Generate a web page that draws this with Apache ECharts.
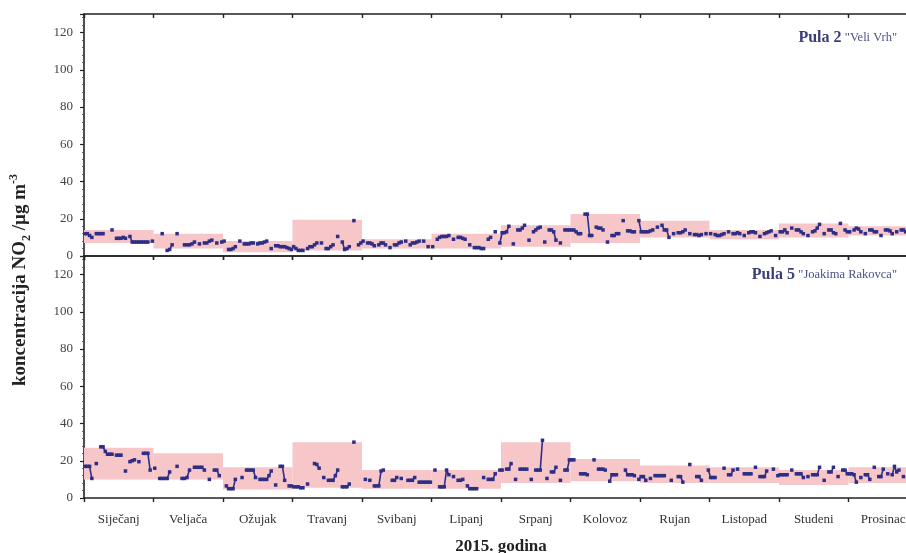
<!DOCTYPE html>
<html>
<head>
<meta charset="utf-8">
<title>NO2 Pula 2015</title>
<script src="https://cdn.jsdelivr.net/npm/echarts@6/dist/echarts.min.js"></script>
<style>
  html, body { margin: 0; padding: 0; background: #fff; }
  #chart { width: 906px; height: 553px; }
</style>
</head>
<body>
<div id="chart"></div>
<script>
// Month names (x categories)
const months = ['Siječanj', 'Veljača', 'Ožujak', 'Travanj', 'Svibanj', 'Lipanj',
                'Srpanj', 'Kolovoz', 'Rujan', 'Listopad', 'Studeni', 'Prosinac'];

// Y-axis tick values
const yTicks = [0, 20, 40, 60, 80, 100, 120];

// Monthly ranges (pink boxes), µg/m3
const pula2Low  = [7, 4, 2, 3, 4, 4, 5, 7, 10, 9, 10, 11];
const pula2High = [14, 12, 8, 19.5, 9, 12, 16.5, 22.5, 19, 14, 17.5, 16];
const pula5Low  = [10, 10, 4.5, 5.5, 5, 5, 8, 9, 8, 8, 7, 8];
const pula5High = [27, 24, 16.5, 30, 15, 15, 30, 21, 17.5, 16.5, 15, 16.5];

// Daily values per month, null = no measurement
const pula2Daily = [
  [12,12,11,10,null,12,12,12,12,null,null,null,14,null,9.5,9.5,9.5,10,9.5,null,10.5,7.5,7.5,7.5,7.5,7.5,7.5,7.5,7.5,null,8],
  [null,null,null,12,null,3,3.5,6,null,12,null,null,6,6,6,6.5,7.5,null,6.5,null,7,7,8,8.5,null,7,null,7.5],
  [8,null,3.5,3.5,4,5,null,8,null,6.5,6.5,6.5,7,7,null,6.5,7,7,7.5,8,null,4,null,5.5,5.5,5,5,5,4.5,4,3.5],
  [5,4,3,3,3,null,4,5,5,6,7,null,7,null,4,4,5,6,null,10.5,null,7.5,3.5,4,5,null,19,null,6,7],
  [8,null,7,7,6.5,5.5,null,6,7,7,6,null,4.5,null,6,6,7,7.5,null,8,null,6,7,7,7.5,8,null,8,null,5,null],
  [5,null,9,10,10.5,10.5,10.5,11,null,9,null,10,10,9.5,9,null,6,null,4.5,4.5,4.5,4,4,null,9,10,null,13,null,7],
  [12.5,12.5,13,16,null,6.5,null,14,14,15,16.5,null,8.5,null,13,14,15,15.5,null,7.5,null,14,14,13,8.5,null,7,null,14,14,14],
  [14,14,13,12,12,null,22.5,22.5,11,11,null,15.5,15,15,14,null,7.5,null,11,11,12,12,null,19,null,13.5,13.5,13,13,null,19],
  [13,13,13,13,13.5,14,null,15.5,null,16.5,14,14,10,null,12,null,12.5,12.5,13,14,null,12,null,11.5,11.5,11,11.5,null,12,null],
  [12,null,11.5,11,11,11.5,12,null,13,null,12,12,12.5,12,null,11,null,12.5,13,13,12.5,null,10.5,null,12,12.5,13,13.5,null,11,null],
  [13,13,14,12.5,null,15,null,14,14,13,12,null,11,null,13,13.5,15,17,null,12,null,14,14,12.5,12,null,17.5,null,14,13],
  [13,null,14,15,14.5,13,null,12,null,14,14,13,13,null,11,null,14,14,13.5,12,null,13,null,14,14,13,12.5,null,13,null,12.5]
];

const pula5Daily = [
  [17,17,17,10.5,null,18.5,null,27.5,27.5,25,23.5,23.5,23.5,null,23,23,23,null,14.5,null,19.5,20,20.5,null,19.5,null,24,24,24,15,null],
  [16,null,10.5,10.5,10.5,10.5,14,null,null,17,null,10.5,10.5,11,15,null,16.5,16.5,16.5,16.5,15,null,10,null,15,15,12,null],
  [null,6.5,5,5,5,10,null,null,11,null,15,15,15,15,11,null,10,10,10,10,12,14.5,null,7,null,17,17,9.5,null,6.5,6.5],
  [6,6,6,5.5,5.5,null,7.5,null,null,18.5,18,16,null,11,null,9.5,9.5,9.5,12,15,null,6,6,6,7.5,null,30,null,null,null],
  [null,10,null,9.5,null,6.5,6.5,6.5,14.5,15,null,null,null,9.5,9.5,11,null,10.5,null,null,9.5,9.5,9.5,11,null,8.5,8.5,8.5,8.5,8.5,8.5],
  [null,15,null,6,6,6,15,12.5,null,11.5,null,9.5,9.5,10,null,6.5,5,5,5,5,null,null,11,null,10,10,10,13,null,15],
  [15,null,15.5,15.5,18.5,null,10,null,15.5,15.5,15.5,15.5,null,10,null,15,15,15,31,null,10.5,null,14,14,16.5,null,9.5,null,15,15,20.5],
  [20.5,20.5,null,null,13,13,13,12.5,null,null,20.5,null,15.5,15.5,15.5,15,null,9,12.5,12.5,12.5,null,null,null,15,12.5,12.5,12.5,12,null,10],
  [11.5,11.5,9.5,null,10.5,null,12,12,12,12,12,null,null,9.5,null,null,11.5,11.5,8.5,null,null,18,null,null,11.5,11.5,9.5,null,null,15],
  [11,11,11,null,null,null,16,null,12.5,12.5,15,null,15.5,null,null,13,13,13,13,null,16.5,null,11.5,11.5,11.5,14.5,null,null,15.5,null,12],
  [12.5,12.5,12.5,12.5,null,15,null,13,13,13,11,null,11.5,null,12.5,12.5,12.5,16.5,null,9.5,null,14,14,16.5,null,11.5,null,15,15,13],
  [13,13,12.5,8.5,null,11,null,12.5,12.5,10,null,16.5,null,11.5,11.5,15.5,null,13,null,12.5,17,14,15,null,11.5,null,12,12,12,12.5,13]
];

const SERIF = 'Liberation Serif';
const LINE_BLUE = '#2d2f86';
const BOX_PINK = '#f6c6c9';
const AXIS_DARK = '#222';

// Each day sits inside its month's slot on a 0..12 month scale
function dailyPoints(monthly) {
  const pts = [];
  monthly.forEach((days, m) => {
    days.forEach((v, d) => {
      pts.push([m + (d + 0.5) / days.length, v === null ? '-' : v]);
    });
  });
  return pts;
}

function boxData(low, high) {
  return low.map((lo, m) => [m, lo, high[m]]);
}

function renderBox(params, api) {
  const p0 = api.coord([api.value(0), api.value(1)]);
  const p1 = api.coord([api.value(0) + 1, api.value(2)]);
  return {
    type: 'rect',
    shape: { x: p0[0], y: p1[1], width: p1[0] - p0[0], height: p0[1] - p1[1] },
    style: { fill: BOX_PINK }
  };
}

function valueX(gridIndex, position, inside) {
  return {
    type: 'value', gridIndex, position, min: 0, max: 12, interval: 1,
    axisLine: { show: true, onZero: false, lineStyle: { color: AXIS_DARK, width: 1.6 } },
    axisTick: { show: true, inside, length: 4, lineStyle: { color: AXIS_DARK, width: 1.4 } },
    axisLabel: { show: false },
    splitLine: { show: false }
  };
}

function valueY(gridIndex) {
  return {
    type: 'value', gridIndex, min: 0, max: 130, interval: 20,
    axisLine: { show: true, lineStyle: { color: AXIS_DARK, width: 1.6 } },
    axisTick: { show: true, length: 4, lineStyle: { color: AXIS_DARK, width: 1.2 } },
    minorTick: { show: true, splitNumber: 5, length: 2, lineStyle: { color: '#444', width: 0.8 } },
    axisLabel: {
      fontFamily: SERIF, fontSize: 13, color: '#444', margin: 11,
      formatter: v => (yTicks.indexOf(v) >= 0 ? String(v) : '')
    },
    splitLine: { show: false }
  };
}

function lineSeries(monthly, axisIndex) {
  return {
    type: 'line', xAxisIndex: axisIndex, yAxisIndex: axisIndex === 0 ? 0 : 1,
    data: dailyPoints(monthly),
    connectNulls: false,
    showAllSymbol: true,
    symbol: 'rect', symbolSize: 3.5,
    itemStyle: { color: LINE_BLUE },
    lineStyle: { color: LINE_BLUE, width: 1.6 },
    animation: false, z: 3
  };
}

const chart = echarts.init(document.getElementById('chart'), null, { renderer: 'canvas' });

chart.setOption({
  animation: false,
  backgroundColor: '#fff',
  grid: [
    { left: 84, right: -12, top: 14, height: 242, outerBoundsMode: 'none', containLabel: false },
    { left: 84, right: -12, top: 256, height: 242, outerBoundsMode: 'none', containLabel: false }
  ],
  xAxis: [
    valueX(0, 'bottom', false),
    valueX(1, 'bottom', false),
    valueX(0, 'top', true),
    valueX(1, 'top', true),
    {
      type: 'category', gridIndex: 1, position: 'bottom', data: months, boundaryGap: true,
      axisLine: { show: false }, axisTick: { show: false },
      axisLabel: { fontFamily: SERIF, fontSize: 13, color: '#333', margin: 15 },
      name: '2015. godina', nameLocation: 'middle', nameGap: 40,
      nameTextStyle: { fontFamily: SERIF, fontSize: 17, fontWeight: 'bold', color: '#222' }
    }
  ],
  yAxis: [valueY(0), valueY(1)],
  series: [
    { type: 'custom', xAxisIndex: 0, yAxisIndex: 0, renderItem: renderBox,
      data: boxData(pula2Low, pula2High), z: 1, silent: true },
    { type: 'custom', xAxisIndex: 1, yAxisIndex: 1, renderItem: renderBox,
      data: boxData(pula5Low, pula5High), z: 1, silent: true },
    lineSeries(pula2Daily, 0),
    lineSeries(pula5Daily, 1)
  ],
  graphic: [
    {
      type: 'text', x: 20, y: 280, rotation: Math.PI / 2,
      style: {
        text: 'koncentracija NO{sub|2} /µg m{sup|-3}',
        fontFamily: SERIF, fontSize: 19, fontWeight: 'bold', fill: '#222',
        align: 'center', verticalAlign: 'middle',
        rich: {
          sub: { fontFamily: SERIF, fontSize: 12, fontWeight: 'bold', fill: '#222', verticalAlign: 'bottom', lineHeight: 25 },
          sup: { fontFamily: SERIF, fontSize: 12, fontWeight: 'bold', fill: '#222', verticalAlign: 'top', lineHeight: 25 }
        }
      }
    },
    {
      type: 'text', right: 9, top: 30,
      style: {
        text: '{b|Pula 2} {s|"Veli Vrh"}',
        rich: {
          b: { fontFamily: SERIF, fontSize: 16, fontWeight: 'bold', fill: '#3a3d78' },
          s: { fontFamily: SERIF, fontSize: 12.5, fill: '#4c5088' }
        }
      }
    },
    {
      type: 'text', right: 9, top: 267,
      style: {
        text: '{b|Pula 5} {s|"Joakima Rakovca"}',
        rich: {
          b: { fontFamily: SERIF, fontSize: 16, fontWeight: 'bold', fill: '#3a3d78' },
          s: { fontFamily: SERIF, fontSize: 12.5, fill: '#4c5088' }
        }
      }
    }
  ]
});
</script>
</body>
</html>
